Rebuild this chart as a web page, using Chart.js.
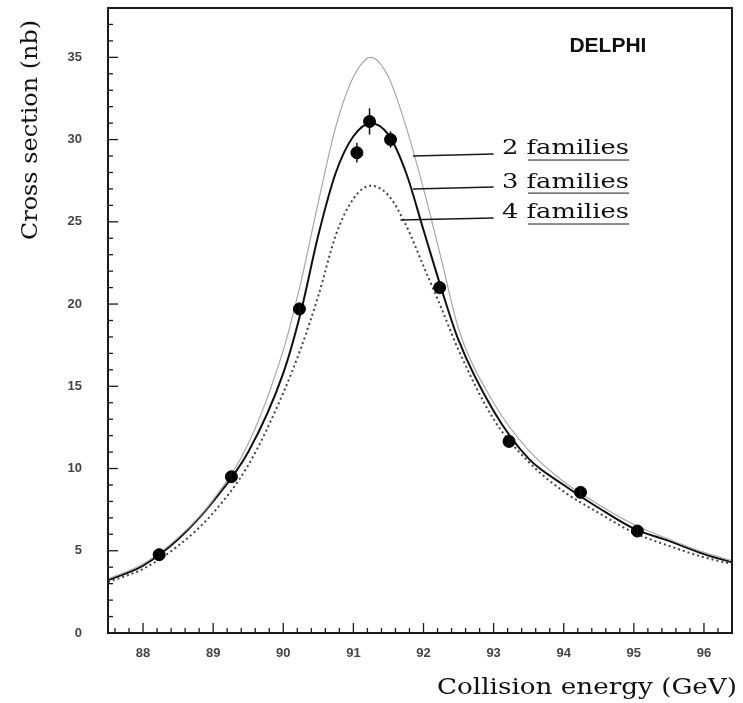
<!DOCTYPE html>
<html>
<head>
<meta charset="utf-8">
<script src="https://cdn.jsdelivr.net/npm/chart.js@4.4.0/dist/chart.umd.min.js"></script>
<style>
  body { margin: 0; background: #fff; }
  #wrap { width: 743px; height: 703px; position: relative; }
</style>
</head>
<body>
<div id="wrap"><canvas id="delphiChart"></canvas></div>
<script>
// Tick labels
const xTicks = [88, 89, 90, 91, 92, 93, 94, 95, 96];
const yTicks = [0, 5, 10, 15, 20, 25, 30, 35];

// Measured cross sections (nb)
const energies = [88.23, 89.26, 90.23, 91.05, 91.23, 91.53, 92.23, 93.22, 94.24, 95.05];
const sigma    = [4.76, 9.5, 19.7, 29.2, 31.1, 30.0, 21.0, 11.65, 8.55, 6.2];
const sigmaErr = [0.2, 0.3, 0.4, 0.6, 0.8, 0.5, 0.4, 0.3, 0.3, 0.3];

// Predicted curves
const curveX = [87.5, 88, 88.5, 89, 89.5, 90, 90.25, 90.5, 90.75, 91, 91.25, 91.5, 91.75, 92, 92.25, 92.5, 93, 93.5, 94, 94.5, 95, 95.5, 96, 96.4];
const twoFam   = [3.3, 4.2, 5.8, 8.1, 11.5, 17.2, 21.3, 26.2, 30.8, 33.8, 35.0, 33.8, 30.8, 27.0, 22.8, 18.5, 14.0, 11.1, 9.2, 7.8, 6.6, 5.7, 4.9, 4.4];
const threeFam = [3.2, 4.1, 5.7, 8.0, 11.0, 15.8, 19.5, 24.2, 28.0, 30.2, 31.0, 30.3, 28.0, 24.5, 21.0, 17.8, 13.5, 10.6, 9.0, 7.6, 6.35, 5.6, 4.8, 4.3];
const fourFam  = [3.1, 3.9, 5.3, 7.3, 10.2, 14.6, 17.3, 20.5, 24.2, 26.4, 27.2, 26.6, 24.8, 22.3, 19.8, 17.2, 13.0, 10.4, 8.6, 7.3, 6.1, 5.3, 4.6, 4.2];

const familyLabels = ['2 families', '3 families', '4 families'];

const pts = arr => curveX.map((x, i) => ({ x: x, y: arr[i] }));

// draw text stretched to a given width
function wideText(ctx, text, x, y, width) {
    const w = ctx.measureText(text).width;
    ctx.save();
    ctx.translate(x, y);
    ctx.scale(width / w, 1);
    ctx.fillText(text, 0, 0);
    ctx.restore();
}

// frame, inward ticks, error bars and texts
const decor = {
    id: 'decor',
    afterDatasetsDraw(chart) {
        const ctx = chart.ctx;
        const xs = chart.scales.x, ys = chart.scales.y;
        ctx.save();
        ctx.strokeStyle = '#111';
        ctx.lineWidth = 1.5;
        energies.forEach((e, i) => {
            const px = xs.getPixelForValue(e);
            ctx.beginPath();
            ctx.moveTo(px, ys.getPixelForValue(sigma[i] - sigmaErr[i]));
            ctx.lineTo(px, ys.getPixelForValue(sigma[i] + sigmaErr[i]));
            ctx.stroke();
        });
        ctx.restore();
    },
    afterDraw(chart) {
        const ctx = chart.ctx;
        const a = chart.chartArea;
        const xs = chart.scales.x, ys = chart.scales.y;
        ctx.save();
        // frame
        ctx.strokeStyle = '#1a1a1a';
        ctx.lineWidth = 2;
        ctx.strokeRect(a.left, a.top, a.right - a.left, a.bottom - a.top);

        // inward tick marks
        ctx.lineWidth = 1.3;
        for (let v = 87.6; v <= 96.4; v += 0.2) {
            const r = Math.round(v * 10) / 10;
            const major = Math.abs(r - Math.round(r)) < 0.01;
            const px = xs.getPixelForValue(r);
            ctx.beginPath();
            ctx.moveTo(px, a.bottom);
            ctx.lineTo(px, a.bottom - (major ? 10 : 5));
            ctx.stroke();
        }
        for (let v = 1; v <= 37; v++) {
            const py = ys.getPixelForValue(v);
            ctx.beginPath();
            ctx.moveTo(a.left, py);
            ctx.lineTo(a.left + (v % 5 === 0 ? 10 : 5), py);
            ctx.stroke();
        }

        // legend labels with leader lines
        const lineY = [29.06, 27.05, 25.17];
        const lineX0 = [91.85, 91.85, 91.67];
        ctx.lineWidth = 1.5;
        ctx.fillStyle = '#111';
        ctx.font = '21px "DejaVu Serif"';
        ctx.textBaseline = 'middle';
        familyLabels.forEach((t, i) => {
            const py = ys.getPixelForValue(lineY[i]);
            ctx.beginPath();
            ctx.moveTo(xs.getPixelForValue(lineX0[i]), py + 1);
            ctx.lineTo(xs.getPixelForValue(93.0), py - 1);
            ctx.stroke();
            const tx = xs.getPixelForValue(93.12);
            wideText(ctx, t, tx, py - 6, 127);
            ctx.beginPath();
            ctx.lineWidth = 1;
            ctx.moveTo(tx + 26, py + 5);
            ctx.lineTo(tx + 127, py + 5);
            ctx.stroke();
            ctx.lineWidth = 1.5;
        });

        // experiment tag
        ctx.font = 'bold 21px "Liberation Sans"';
        ctx.textAlign = 'center';
        ctx.fillText('DELPHI', xs.getPixelForValue(94.63), ys.getPixelForValue(35.7));

        // axis titles
        ctx.font = '22px "DejaVu Serif"';
        ctx.textAlign = 'left';
        wideText(ctx, 'Collision energy (GeV)', 437, 688, 300);
        ctx.translate(31, 240);
        ctx.rotate(-Math.PI / 2);
        wideText(ctx, 'Cross section (nb)', 0, 0, 220);
        ctx.restore();
    }
};

new Chart(document.getElementById('delphiChart').getContext('2d'), {
    type: 'line',
    data: {
        datasets: [
            {
                label: 'data',
                type: 'scatter',
                data: energies.map((e, i) => ({ x: e, y: sigma[i] })),
                backgroundColor: '#000',
                borderColor: '#000',
                pointRadius: 6,
                pointHoverRadius: 6
            },
            {
                label: familyLabels[0],
                data: pts(twoFam),
                borderColor: '#a8a8a8',
                borderWidth: 1.2,
                pointRadius: 0,
                cubicInterpolationMode: 'monotone'
            },
            {
                label: familyLabels[1],
                data: pts(threeFam),
                borderColor: '#111',
                borderWidth: 2,
                pointRadius: 0,
                cubicInterpolationMode: 'monotone'
            },
            {
                label: familyLabels[2],
                data: pts(fourFam),
                borderColor: '#444',
                borderWidth: 2,
                borderDash: [2, 3],
                pointRadius: 0,
                cubicInterpolationMode: 'monotone'
            }
        ]
    },
    options: {
        responsive: true,
        maintainAspectRatio: false,
        animation: false,
        layout: { padding: { top: 8, right: 11, left: 0, bottom: 0 } },
        plugins: {
            legend: { display: false },
            tooltip: { enabled: false }
        },
        scales: {
            x: {
                type: 'linear',
                min: 87.5,
                max: 96.4,
                afterBuildTicks: s => { s.ticks = xTicks.map(v => ({ value: v })); },
                afterFit: s => { s.height = 70; s.paddingLeft = 0; s.paddingRight = 0; },
                grid: { display: false },
                border: { display: false },
                ticks: {
                    color: '#444',
                    font: { family: 'Liberation Sans', size: 13, weight: 'bold' },
                    padding: 5,
                    maxRotation: 0
                }
            },
            y: {
                min: 0,
                max: 38,
                afterBuildTicks: s => { s.ticks = yTicks.map(v => ({ value: v })); },
                afterFit: s => { s.width = 108; s.paddingTop = 0; s.paddingBottom = 0; },
                grid: { display: false },
                border: { display: false },
                ticks: {
                    color: '#444',
                    font: { family: 'Liberation Sans', size: 13, weight: 'bold' },
                    padding: 18
                }
            }
        }
    },
    plugins: [decor]
});
</script>
</body>
</html>
